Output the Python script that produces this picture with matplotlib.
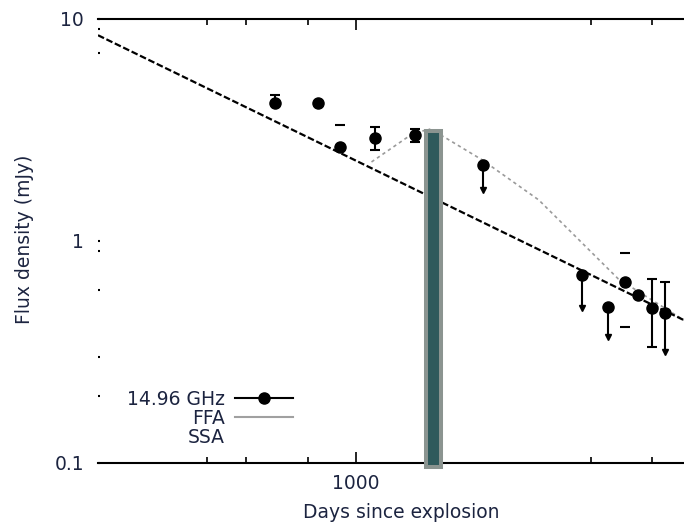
import matplotlib.pyplot as plt
from matplotlib.lines import Line2D
from matplotlib.ticker import FixedLocator, NullFormatter

plt.rcParams['font.family'] = ['DejaVu Sans']
txt = '#1c2440'
fs = 13.5

# detections at 14.96 GHz
days = [686, 838, 930, 1095, 1320, 1813, 2880, 3250, 3528, 3740, 3993, 4240]
flux = [4.19, 4.19, 2.65, 2.91, 3.00, 2.20, 0.70, 0.504, 0.653, 0.571, 0.50, 0.474]
err_lo = [0.05, 0, 0.05, 0.35, 0.20, 0, 0, 0, 0.243, 0, 0.167, 0]
err_hi = [0.35, 0, 0.69, 0.35, 0.20, 0, 0, 0, 0.230, 0, 0.174, 0.18]
caps_only = [2, 8]  # error bars where only the caps show

# upper-limit arrows
lim_days = [1813, 2880, 3250, 4240]
lim_from = [2.20, 0.70, 0.504, 0.474]
lim_to = [1.70, 0.50, 0.37, 0.316]

# model curves
ssa_days = [300, 4640]
ssa_flux = [8.45, 0.44]
ffa_days = [1077, 1304, 1411, 1513, 1806, 2354, 3415, 4640]
ffa_flux = [2.27, 3.04, 3.19, 2.94, 2.32, 1.53, 0.674, 0.44]

# shaded epoch bar
bar_left, bar_right = 1391, 1492
bar_bottom, bar_top = 0.0958, 3.13

fig = plt.figure(figsize=(6.84, 5.27), dpi=100)
ax = fig.add_axes([98/684, 1 - 463/527, 586/684, 444/527])
ax.set_xscale('log')
ax.set_yscale('log')
ax.set_xlim(300, 4640)
ax.set_ylim(0.1, 10)

ax.plot(ffa_days, ffa_flux, color='#9a9a9a', lw=1.2, dashes=(2, 2), zorder=1)
ax.plot(ssa_days, ssa_flux, color='k', lw=1.6, dashes=(3, 1.2), zorder=1.5)

line_idx = [i for i in range(len(days)) if i not in caps_only]
ax.errorbar([days[i] for i in line_idx], [flux[i] for i in line_idx],
            yerr=[[err_lo[i] for i in line_idx], [err_hi[i] for i in line_idx]],
            fmt='none', ecolor='k', elinewidth=1.5, capsize=3.6, capthick=1.5, zorder=2)
ax.errorbar([days[i] for i in caps_only], [flux[i] for i in caps_only],
            yerr=[[err_lo[i] for i in caps_only], [err_hi[i] for i in caps_only]],
            fmt='none', ecolor='k', elinewidth=0, capsize=3.6, capthick=1.5, zorder=2)
ax.vlines(lim_days, lim_to, lim_from, color='k', lw=1.5, zorder=2)
ax.plot(lim_days, lim_to, 'v', color='k', ms=4, ls='none', zorder=2)
ax.plot(days, flux, 'o', color='k', ms=8, ls='none', zorder=2.2)

ax.bar(bar_left, bar_top - bar_bottom, width=bar_right - bar_left, bottom=bar_bottom,
       align='edge', color='#2f5a5c', edgecolor='#8b9490', linewidth=2.9,
       clip_on=False, zorder=3)

for s in ['left', 'right']:
    ax.spines[s].set_visible(False)
for s in ['top', 'bottom']:
    ax.spines[s].set_linewidth(1.5)

ax.xaxis.set_major_locator(FixedLocator([1000]))
ax.xaxis.set_minor_locator(FixedLocator([500, 600, 800, 3000, 4000]))
ax.set_xticklabels(['1000'])
ax.xaxis.set_minor_formatter(NullFormatter())
ax.yaxis.set_major_locator(FixedLocator([0.1, 1, 10]))
ax.yaxis.set_minor_locator(FixedLocator([0.2, 0.3, 0.6, 0.9, 7, 9]))
ax.set_yticklabels(['0.1', '1', '10'])
ax.yaxis.set_minor_formatter(NullFormatter())
ax.tick_params(axis='x', which='both', direction='in', top=True, width=1.2, labelsize=fs,
               labelcolor=txt, pad=8)
ax.tick_params(axis='x', which='major', length=8)
ax.tick_params(axis='x', which='minor', length=4)
ax.tick_params(axis='y', which='both', direction='in', length=1.5, width=1.5,
               labelsize=fs, labelcolor=txt, pad=10)

ax.set_xlabel('Days since explosion', fontsize=fs, color=txt)
ax.xaxis.set_label_coords((401 - 98) / 586, -(503 - 463) / 444)
ax.set_ylabel('Flux density (mJy)', fontsize=fs, color=txt)
ax.yaxis.set_label_coords(-(98 - 34) / 586, (463 - 239) / 444)

handles = [Line2D([], [], color='k', marker='o', ms=8, lw=1.5),
           Line2D([], [], color='#a0a0a0', lw=1.5),
           Line2D([], [], color='none')]
labels = ['14.96 GHz', 'FFA', 'SSA']
leg = ax.legend(handles, labels, loc='upper right', bbox_to_anchor=(0.333, 0.165),
                frameon=False, markerfirst=False, fontsize=fs, handlelength=3.1,
                handletextpad=0.55, labelspacing=0.0, borderpad=0, borderaxespad=0)
for t in leg.get_texts():
    t.set_color(txt)

fig.savefig('out.png', dpi=100)
